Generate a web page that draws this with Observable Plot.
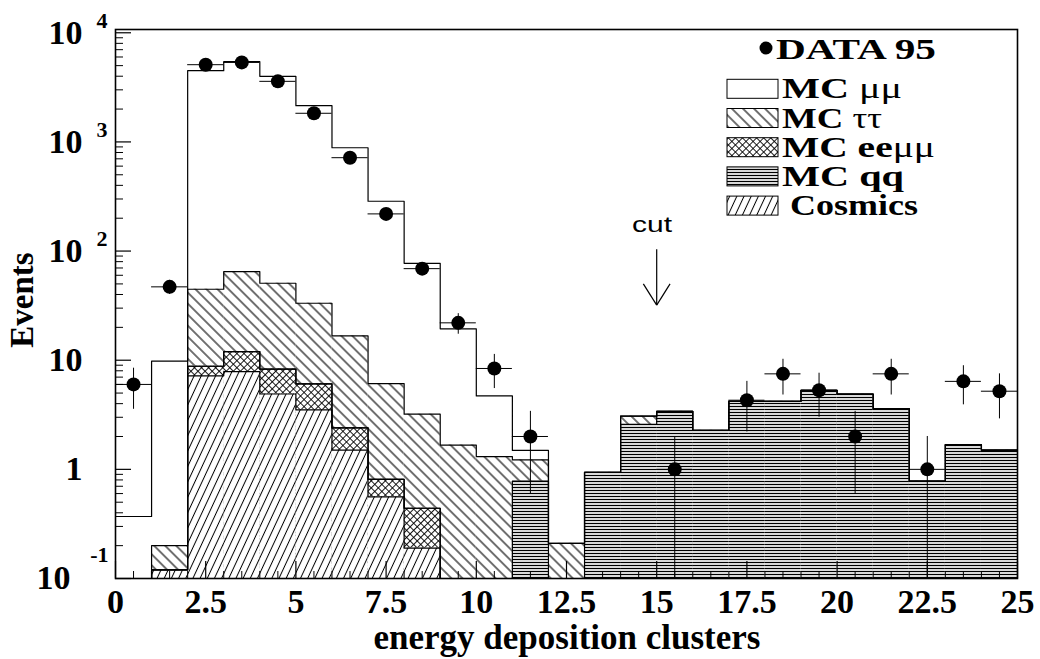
<!DOCTYPE html>
<html><head><meta charset="utf-8">
<script src="https://cdn.jsdelivr.net/npm/d3@7"></script>
<script src="https://cdn.jsdelivr.net/npm/@observablehq/plot@0.6"></script>
<style>body{margin:0;background:#fff}</style>
</head><body>
<div id="chart"></div>
<script>
// ---- data (bins of width 1 from 0 to 25) ----
const binEdges = [0,1,2,3,4,5,6,7,8,9,10,11,12,13,14,15,16,17,18,19,20,21,22,23,24,25];
const data95    = [6, 47, 5100, 5350, 3590, 1830, 717, 219, 69, 22, 8.4, 2, null, null, null, 1, null, 4.3, 7.5, 5.3, 2, 7.5, 1, 6.4, 5.2];
const data95Err = [2.45, 6.9, 71, 73, 60, 43, 27, 15, 8.3, 4.7, 2.9, 1.4, 0, 0, 0, 1, 0, 2.1, 2.7, 2.3, 1.4, 2.7, 1, 2.5, 2.3];
const mcMuMu    = [0.37, 9.6, 4455, 5365, 3940, 2117, 868, 280, 74, 17.7, 3.4, 0.27, 0, 0, 0, 0, 0, 0, 0, 0, 0, 0, 0, 0, 0];
const mcTauTau  = [0, 0.08, 35.9, 52.7, 42.4, 27.2, 14.3, 5.3, 2.76, 1.67, 1.31, 0.44, 0.21, 0, 0.49, 0, 0, 0, 0, 0, 0, 0, 0, 0, 0];
const mcEeMuMu  = [0, 0, 1.6, 4.15, 3.4, 2.56, 0.9, 0.25, 0.25, 0, 0, 0, 0, 0, 0, 0, 0, 0, 0, 0, 0, 0, 0, 0, 0];
const mcQQ      = [0, 0, 0, 0, 0, 0, 0, 0, 0, 0, 0, 0.78, 0, 0.94, 2.58, 3.4, 2.28, 4.2, 4.2, 5.3, 4.9, 3.6, 0.78, 1.69, 1.5];
const cosmics   = [0, 0.12, 7.2, 7.85, 4.9, 3.5, 1.5, 0.56, 0.19, 0, 0, 0, 0, 0, 0, 0, 0, 0, 0, 0, 0, 0, 0, 0, 0];

const xTickValues = [0, 2.5, 5, 7.5, 10, 12.5, 15, 17.5, 20, 22.5, 25];
const xTickLabels = ["0", "2.5", "5", "7.5", "10", "12.5", "15", "17.5", "20", "22.5", "25"];
const yTickValues = [0.1, 1, 10, 100, 1000, 10000];
const yTickBase   = ["10", "1", "10", "10", "10", "10"];
const yTickExp    = ["-1", "", "", "2", "3", "4"];

const legendLabels = ["DATA 95", "MC μμ", "MC ττ", "MC eeμμ", "MC qq", "Cosmics"];

// cut annotation
const cutX = 15, cutTextY = 150, arrowTop = 104, arrowTip = 32, wingY = 50, wingDX = 0.37;

// ---- layout ----
const W = 1040, H = 659, mL = 115, mR = 23, mT = 29, mB = 81;
const frameW = W - mL - mR, frameH = H - mT - mB;
const yMin = 0.1, yMax = 10715;
const nb = data95.length;

// stack: bottom -> top
const layers = [cosmics, mcEeMuMu, mcQQ, mcTauTau, mcMuMu];
const fills = ["url(#pCos)", "url(#pEe)", "url(#pQQ)", "url(#pTau)", "white"];
const cum = [];
let run = new Array(nb).fill(0);
layers.forEach(l => { run = run.map((v, i) => v + l[i]); cum.push(run); });

const fillMarks = [];
for (let j = layers.length - 1; j >= 0; j--) {
  const c = cum[j];
  const rows = d3.range(nb).map(i => ({x1: binEdges[i], x2: binEdges[i + 1], y2: Math.max(c[i], yMin)}));
  fillMarks.push(Plot.rect(rows, {x1: "x1", x2: "x2", y1: yMin, y2: "y2", fill: fills[j], inset: 0}));
}
const outlineMarks = cum.map(c => Plot.line(
  binEdges.map((e, k) => ({x: e, y: Math.max(c[Math.min(k, nb - 1)], yMin)})),
  {x: "x", y: "y", curve: "step-after", stroke: "black", strokeWidth: 1.2}));

const pts = d3.range(nb).filter(i => data95[i] != null).map(i => ({
  x: (binEdges[i] + binEdges[i + 1]) / 2, x1: binEdges[i], x2: binEdges[i + 1],
  y: data95[i], lo: Math.max(data95[i] - data95Err[i], yMin), hi: data95[i] + data95Err[i]}));

const yMinor = [];
for (let d = 0.1; d < yMax; d *= 10) for (let m = 2; m <= 9; m++) if (d * m < yMax) yMinor.push(d * m);
const xMinor = d3.range(0.5, 25, 0.5).filter(v => v % 2.5 !== 0);

const yRows = yTickValues.map((v, i) => ({v, base: yTickBase[i], exp: yTickExp[i]}));
const serif = "Liberation Serif";

const plot = Plot.plot({
  width: W, height: H, marginLeft: mL, marginRight: mR, marginTop: mT, marginBottom: mB,
  style: {fontFamily: serif, background: "white", color: "black"},
  x: {domain: [0, 25], axis: null},
  y: {type: "log", domain: [yMin, yMax], axis: null},
  marks: [
    ...fillMarks,
    ...outlineMarks,
    Plot.frame({stroke: "black", strokeWidth: 1.6}),
    Plot.tickY(yMinor, {y: d => d, insetRight: frameW - 8, stroke: "black", strokeWidth: 1}),
    Plot.tickY(yTickValues, {y: d => d, insetRight: frameW - 16, stroke: "black", strokeWidth: 1.2}),
    Plot.tickX(xMinor, {x: d => d, insetTop: frameH - 7, stroke: "black", strokeWidth: 1}),
    Plot.tickX(xTickValues, {x: d => d, insetTop: frameH - 17, stroke: "black", strokeWidth: 1.2}),
    // tick labels
    Plot.text(xTickValues, {x: d => d, text: (d, i) => xTickLabels[i], frameAnchor: "bottom", lineAnchor: "bottom", dy: 34, fontSize: 34, fontWeight: "bold", fill: "black"}),
    Plot.text(yRows.filter(d => d.v > 0.1), {y: "v", text: "base", frameAnchor: "left", textAnchor: "end", lineAnchor: "middle", dx: -33, fontSize: 34, fontWeight: "bold", fill: "black"}),
    Plot.text(yRows.filter(d => d.v === 0.1), {y: "v", text: "base", frameAnchor: "left", textAnchor: "end", lineAnchor: "middle", dx: -45, fontSize: 34, fontWeight: "bold", fill: "black"}),
    Plot.text(yRows.filter(d => d.v > 0.1 && d.exp), {y: "v", text: "exp", frameAnchor: "left", textAnchor: "end", lineAnchor: "middle", dx: -8, dy: -12, fontSize: 22, fontWeight: "bold", fill: "black"}),
    Plot.text(yRows.filter(d => d.v === 0.1), {y: "v", text: "exp", frameAnchor: "left", textAnchor: "end", lineAnchor: "middle", dx: -7, dy: -24, fontSize: 22, fontWeight: "bold", fill: "black"}),
    // data
    Plot.ruleY(pts, {y: "y", x1: "x1", x2: "x2", stroke: "black", strokeWidth: 1}),
    Plot.ruleX(pts, {x: "x", y1: "lo", y2: "hi", stroke: "black", strokeWidth: 1}),
    Plot.dot(pts, {x: "x", y: "y", r: 7, fill: "black", stroke: "none"}),
    // cut arrow
    Plot.link([{x1: cutX, y1: arrowTop, x2: cutX, y2: arrowTip},
               {x1: cutX - wingDX, y1: wingY, x2: cutX, y2: arrowTip},
               {x1: cutX + wingDX, y1: wingY, x2: cutX, y2: arrowTip}],
      {x1: "x1", y1: "y1", x2: "x2", y2: "y2", stroke: "black", strokeWidth: 1.2}),
    Plot.text(["cut"], {x: cutX - 0.13, y: cutTextY, text: d => d, lineAnchor: "bottom", fontSize: 22, fontFamily: "Liberation Sans", fill: "black"})
  ]
});
document.getElementById("chart").appendChild(plot);

const svg = d3.select(plot);
svg.selectAll("text").filter(function(){ return this.textContent === "cut"; })
  .attr("textLength", 40).attr("lengthAdjust", "spacingAndGlyphs").attr("font-weight", 300);

// patterns
const defs = svg.insert("defs", ":first-child");
function hatch(id, s, angle, sw) {
  const p = defs.append("pattern").attr("id", id).attr("patternUnits", "userSpaceOnUse")
    .attr("width", s).attr("height", s).attr("patternTransform", `rotate(${angle})`);
  p.append("rect").attr("width", s).attr("height", s).attr("fill", "white");
  p.append("line").attr("x1", s / 2).attr("x2", s / 2).attr("y1", 0).attr("y2", s)
    .attr("stroke", "black").attr("stroke-width", sw);
  return p;
}
hatch("pTau", 7.8, -45, 1.1);
hatch("pCos", 6.5, 25, 1);
const pe = hatch("pEe", 5, 45, 0.9);
pe.append("line").attr("x1", 0).attr("x2", 5).attr("y1", 2.5).attr("y2", 2.5).attr("stroke", "black").attr("stroke-width", 0.9);
const pq = defs.append("pattern").attr("id", "pQQ").attr("patternUnits", "userSpaceOnUse").attr("width", 10).attr("height", 3);
pq.append("rect").attr("width", 10).attr("height", 3).attr("fill", "white");
pq.append("line").attr("x1", 0).attr("x2", 10).attr("y1", 1.5).attr("y2", 1.5).attr("stroke", "black").attr("stroke-width", 1.3);

// axis titles
svg.append("text").attr("x", 567).attr("y", 649).attr("text-anchor", "middle")
  .attr("font-family", serif).attr("font-weight", "bold").attr("font-size", 35).attr("fill", "black")
  .text("energy deposition clusters");
svg.append("text").attr("transform", "translate(33,300) rotate(-90)").attr("text-anchor", "middle")
  .attr("font-family", serif).attr("font-weight", "bold").attr("font-size", 33).attr("fill", "black")
  .text("Events");

// legend
const lg = svg.append("g").attr("font-family", serif).attr("font-weight", "bold").attr("font-size", 29)
  .attr("fill", "black").attr("text-anchor", "start");
lg.append("circle").attr("cx", 766).attr("cy", 48).attr("r", 6.5).attr("fill", "black");
lg.append("text").attr("x", 776).attr("y", 59).attr("text-anchor", "start")
  .attr("textLength", 160).attr("lengthAdjust", "spacingAndGlyphs").text(legendLabels[0]);
const boxFills = ["white", "url(#pTau)", "url(#pEe)", "url(#pQQ)", "url(#pCos)"];
const txtLens = [120, 100, 153, 122, 128];
for (let i = 0; i < 5; i++) {
  const top = 79.3 + 29.2 * i;
  lg.append("rect").attr("x", 727).attr("y", top).attr("width", 51).attr("height", 19)
    .attr("fill", boxFills[i]).attr("stroke", "black").attr("stroke-width", 1);
  const t = lg.append("text").attr("x", i === 4 ? 790 : 782).attr("y", top + 19).attr("text-anchor", "start")
    .attr("textLength", txtLens[i]).attr("lengthAdjust", "spacingAndGlyphs");
  const label = legendLabels[i + 1];
  // Greek letters in regular weight
  label.split(/([μτ]+)/).filter(s => s).forEach(s => {
    const ts = t.append("tspan").text(s);
    if (/[μτ]/.test(s)) ts.attr("font-weight", "normal");
  });
}
</script>
</body></html>
